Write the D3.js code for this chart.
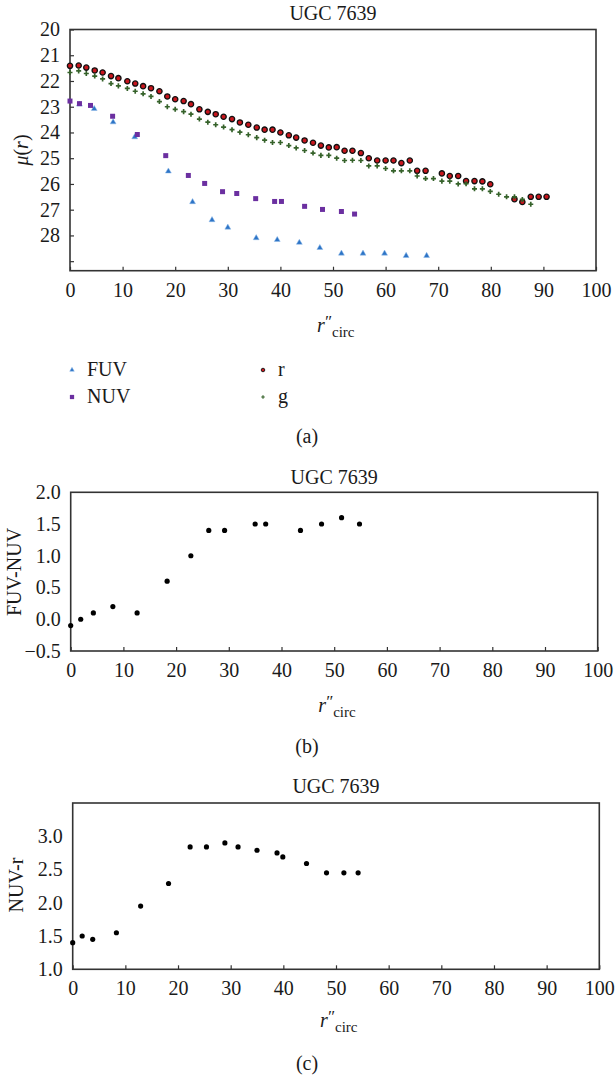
<!DOCTYPE html>
<html><head><meta charset="utf-8">
<script src="https://cdn.jsdelivr.net/npm/d3@7"></script>
<style>
body{margin:0;background:#fff;}
svg{display:block;}
</style></head><body>
<svg id="c" width="615" height="1079"></svg>
<script>
// ---------- data ----------
const titleText = "UGC 7639";
const xTicks = [0,10,20,30,40,50,60,70,80,90,100];
const muTickMarks = [20,21,22,23,24,25,26,27,28,29];
const muTickLabels = ["20","21","22","23","24","25","26","27","28",""];
const fnTickMarks = [-0.5,0,0.5,1,1.5,2];
const fnTickLabels = ["\u22120.5","0.0","0.5","1.0","1.5","2.0"];
const nrTickMarks = [1,1.5,2,2.5,3];
const nrTickLabels = ["1.0","1.5","2.0","2.5","3.0"];

const rX  = [0,1.65,3.1,4.7,6.2,7.8,9.2,10.9,12.4,13.9,15.4,17.0,18.5,20.0,21.6,23.0,24.6,26.2,27.7,29.2,30.8,32.3,33.9,35.5,37.0,38.5,40.0,41.6,43.0,44.6,46.2,47.7,49.2,50.7,52.2,53.7,55.3,56.8,58.4,60.0,61.5,63.0,64.6,66.0,67.6,70.7,72.2,73.8,75.3,76.9,78.4,79.9,84.5,86.0,87.6,89.1,90.6];
const rMu = [21.41,21.40,21.48,21.59,21.67,21.81,21.89,22.01,22.10,22.20,22.28,22.40,22.60,22.71,22.78,22.90,23.10,23.20,23.29,23.39,23.48,23.61,23.70,23.81,23.89,23.89,24.00,24.11,24.20,24.31,24.40,24.51,24.58,24.57,24.71,24.71,24.80,25.00,25.09,25.09,25.09,25.19,25.09,25.49,25.49,25.59,25.69,25.69,25.89,25.89,25.90,26.01,26.59,26.70,26.50,26.50,26.50];

const gX  = [0,1.65,3.1,4.7,6.2,7.8,9.2,10.9,12.4,13.9,15.4,17.0,18.5,20.0,21.6,23.0,24.6,26.2,27.7,29.2,30.8,32.3,33.9,35.5,37.0,38.5,40.0,41.6,43.0,44.6,46.2,47.7,49.2,50.7,52.2,53.7,55.3,56.8,58.4,60.0,61.5,63.0,64.6,66.0,67.6,69.1,70.7,72.2,73.8,75.3,76.9,78.4,79.9,81.5,83.0,84.5,86.0,87.6];
const gMu = [21.67,21.61,21.71,21.81,21.92,22.10,22.19,22.29,22.40,22.50,22.60,22.80,23.00,23.10,23.19,23.29,23.48,23.60,23.70,23.79,23.89,23.99,24.09,24.20,24.30,24.39,24.39,24.51,24.60,24.70,24.80,24.89,24.89,25.00,25.09,25.08,25.09,25.30,25.30,25.40,25.49,25.49,25.49,25.69,25.79,25.79,25.89,25.89,26.00,25.99,26.19,26.19,26.29,26.40,26.50,26.50,26.60,26.79];

const nuvX  = [0,1.8,3.9,8.1,12.8,18.2,22.5,25.6,29.0,31.7,35.3,38.9,40.2,44.6,48.0,51.6,54.1];
const nuvMu = [22.78,22.88,22.95,23.37,24.08,24.90,25.67,25.98,26.30,26.37,26.57,26.68,26.68,26.87,26.99,27.07,27.17];

const fuvX  = [1.8,4.6,8.2,12.3,18.7,23.3,27.0,30.0,35.4,39.4,43.6,47.5,51.6,55.7,59.8,63.9,67.8];
const fuvMu = [22.91,23.08,23.60,24.18,25.51,26.70,27.40,27.69,28.10,28.17,28.28,28.48,28.70,28.70,28.70,28.79,28.79];

const fnX   = [0,1.9,4.3,8.0,12.6,18.3,22.8,26.2,29.2,35.0,37.0,43.6,47.6,51.4,54.8];
const fnVal = [-0.1,0.0,0.1,0.2,0.1,0.6,1.0,1.4,1.4,1.5,1.5,1.4,1.5,1.6,1.5];

const nrX   = [0,1.8,3.8,8.3,12.9,18.2,22.3,25.4,28.9,31.4,35.0,38.8,39.9,44.4,48.2,51.5,54.2];
const nrVal = [1.40,1.50,1.45,1.55,1.95,2.29,2.84,2.84,2.90,2.84,2.79,2.75,2.69,2.59,2.45,2.45,2.45];

const legendA = [["FUV","fuv"],["NUV","nuv"],["r","r"],["g","g"]];

// ---------- drawing ----------
const FONT = "'Liberation Serif','DejaVu Serif',serif";
const FS = 20;
const INK = "#1a1a1a";
const AX = "#333";
const svg = d3.select("#c");

const style = {
  fuv: {sym:d3.symbolTriangle, size:15, fill:"#2d74c6", stroke:"#8cb8e8", sw:0.5},
  nuv: {sym:d3.symbolSquare,   size:25, fill:"#6b2fa0", stroke:"none", sw:0},
  r:   {sym:d3.symbolCircle,   size:22, fill:"#c8161d", stroke:"#111", sw:1.3},
  g:   {sym:d3.symbolCross,    size:14, fill:"#35622a", stroke:"none", sw:0},
  dot: {sym:d3.symbolCircle,   size:21, fill:"#000", stroke:"none", sw:0}
};

function panel(o){
  const x = d3.scaleLinear().domain([0,100]).range([o.l,o.r]);
  const y = d3.scaleLinear().domain(o.yDomain).range(o.yRange);
  const g = svg.append("g");
  // title
  g.append("text").attr("x",(o.l+o.r)/2).attr("y",o.titleY).attr("text-anchor","middle")
    .attr("font-family",FONT).attr("font-size",FS).attr("fill",INK).text(titleText);
  // x axis
  const gx = g.append("g").attr("transform",`translate(0,${o.b})`)
    .call(d3.axisBottom(x).tickValues(xTicks).tickSize(-4).tickSizeOuter(0).tickPadding(12));
  gx.select(".domain").remove();
  gx.attr("font-family",FONT).attr("font-size",FS);
  gx.selectAll("text").attr("fill",INK);
  gx.selectAll("line").attr("stroke",AX).attr("stroke-width",1.2);
  // y axis
  const gy = g.append("g").attr("transform",`translate(${o.l},0)`)
    .call(d3.axisLeft(y).tickValues(o.yTicks).tickFormat((d,i)=>o.yLabels[i])
      .tickSize(o.yTickSize).tickSizeOuter(0).tickPadding(10));
  gy.select(".domain").remove();
  gy.attr("font-family",FONT).attr("font-size",FS);
  gy.selectAll("text").attr("fill",INK);
  gy.selectAll("line").attr("stroke",AX).attr("stroke-width",1.2);
  // frame
  g.append("rect").attr("x",o.l).attr("y",Math.min(...o.yRange)).attr("width",o.r-o.l)
    .attr("height",Math.abs(o.yRange[0]-o.yRange[1])).attr("fill","none")
    .attr("stroke",AX).attr("stroke-width",1.6);
  // y label
  const yl = g.append("text").attr("transform",`translate(${o.ylx},${o.yly}) rotate(-90)`)
    .attr("text-anchor","middle").attr("font-family",FONT).attr("font-size",FS).attr("fill",INK);
  o.ylabel(yl);
  // x label r''_circ
  const cx = (o.l+o.r)/2, by = o.b + o.xlOff;
  const xl = g.append("text").attr("font-family",FONT).attr("fill",INK);
  xl.append("tspan").attr("x",cx-16).attr("y",by).attr("font-size",FS).attr("font-style","italic").text("r");
  xl.append("tspan").attr("x",cx-9).attr("y",by-5).attr("font-size",17).attr("font-style","italic").text("\u2033");
  xl.append("tspan").attr("x",cx-1).attr("y",by+5).attr("font-size",15).text("circ");
  // caption
  g.append("text").attr("x",307).attr("y",o.capY).attr("text-anchor","middle")
    .attr("font-family",FONT).attr("font-size",FS).attr("fill",INK).text(o.cap);
  return {x,y,g};
}

function plotSeries(p, xs, ys, st){
  const s = style[st];
  p.g.append("g").selectAll("path").data(xs.map((v,i)=>[v,ys[i]])).join("path")
    .attr("transform",d=>`translate(${p.x(d[0])},${p.y(d[1])})`)
    .attr("d",d3.symbol().type(s.sym).size(s.size)())
    .attr("fill",s.fill).attr("stroke",s.stroke).attr("stroke-width",s.sw);
}

// panel (a)
const pa = panel({l:70,r:596,b:270.7,yDomain:[20,29.37],yRange:[29.5,270.7],
  yTicks:muTickMarks,yLabels:muTickLabels,yTickSize:-4,titleY:20,
  ylx:28,yly:150,xlOff:61,capY:443,cap:"(a)",
  ylabel:t=>{t.append("tspan").attr("font-style","italic").text("\u03bc");
             t.append("tspan").text("(");
             t.append("tspan").attr("font-style","italic").text("r");
             t.append("tspan").text(")");}});
plotSeries(pa, fuvX, fuvMu, "fuv");
plotSeries(pa, nuvX, nuvMu, "nuv");
plotSeries(pa, rX, rMu, "r");
plotSeries(pa, gX, gMu, "g");

// legend
const legPos = [[72,370,87,376],[72,397,87,403],[263,370,278,376],[263,397,278,403]];
const legSize = {fuv:9,nuv:18,r:10,g:7};
legendA.forEach(([lab,key],i)=>{
  const [mx,my,tx,ty] = legPos[i]; const s = style[key];
  svg.append("path").attr("transform",`translate(${mx},${my})`)
    .attr("d",d3.symbol().type(s.sym).size(legSize[key])())
    .attr("fill",s.fill).attr("stroke",s.stroke).attr("stroke-width",key==="r"?0.9:s.sw);
  svg.append("text").attr("x",tx).attr("y",ty).attr("font-family",FONT).attr("font-size",FS)
    .attr("fill",INK).text(lab);
});

// panel (b)
const pb = panel({l:70.7,r:597.7,b:651,yDomain:[-0.5,2],yRange:[651,492.3],
  yTicks:fnTickMarks,yLabels:fnTickLabels,yTickSize:0,titleY:484,
  ylx:21,yly:572,xlOff:61,capY:753,cap:"(b)",
  ylabel:t=>t.text("FUV-NUV")});
plotSeries(pb, fnX, fnVal, "dot");

// panel (c)
const pc = panel({l:72.7,r:599.3,b:969.3,yDomain:[1,3.5],yRange:[969.3,803],
  yTicks:nrTickMarks,yLabels:nrTickLabels,yTickSize:0,titleY:793,
  ylx:23,yly:885,xlOff:58,capY:1070,cap:"(c)",
  ylabel:t=>t.text("NUV-r")});
plotSeries(pc, nrX, nrVal, "dot");
</script>
</body></html>
